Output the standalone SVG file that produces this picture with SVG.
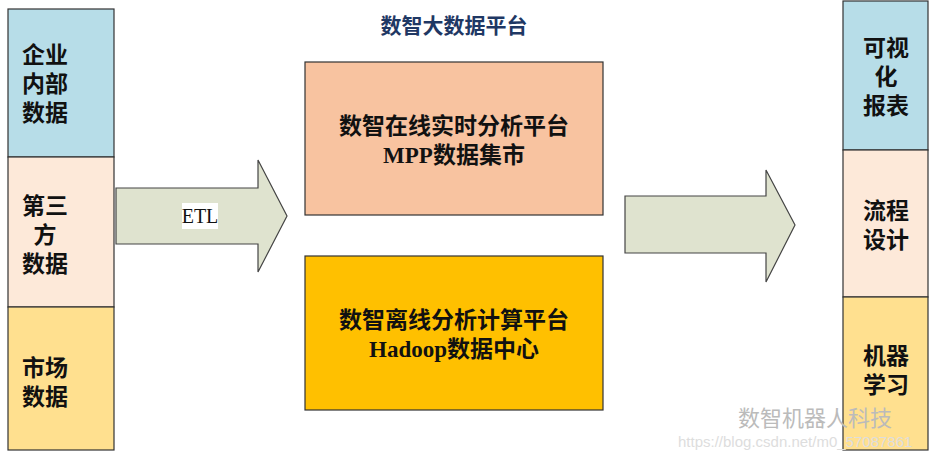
<svg xmlns="http://www.w3.org/2000/svg" width="929" height="462" viewBox="0 0 929 462">
<style>
.t{font-family:"Liberation Serif","Noto Sans CJK SC",serif;font-size:23px;font-weight:bold;fill:#111;text-anchor:middle}
.b{stroke:#333;stroke-width:1.2}
.a{fill:#dfe3cf;stroke:#444;stroke-width:1.2}
.w{font-family:"Noto Sans CJK SC",sans-serif;fill:#bbb;font-size:22px}
</style>
<rect width="929" height="462" fill="#fff"/>
<text x="454" y="33" class="t" style="fill:#1f3864;font-size:21px">数智大数据平台</text>
<g id="left-1"><rect class="b" x="8" y="9" width="106" height="148" fill="#b7dde8"/><text class="t" x="45" y="63">企业</text><text class="t" x="45" y="92">内部</text><text class="t" x="45" y="121">数据</text></g>
<g id="left-2"><rect class="b" x="8" y="157" width="106" height="150" fill="#fde9d9"/><text class="t" x="45" y="214">第三</text><text class="t" x="45" y="243">方</text><text class="t" x="45" y="272">数据</text></g>
<g id="left-3"><rect class="b" x="8" y="307" width="106" height="143" fill="#ffe08f"/><text class="t" x="45" y="376">市场</text><text class="t" x="45" y="405">数据</text></g>
<g id="right-1"><rect class="b" x="843" y="1" width="85" height="149" fill="#b7dde8"/><text class="t" x="886" y="56">可视</text><text class="t" x="886" y="85">化</text><text class="t" x="886" y="114">报表</text></g>
<g id="right-2"><rect class="b" x="843" y="150" width="85" height="147" fill="#fde9d9"/><text class="t" x="886" y="219">流程</text><text class="t" x="886" y="248">设计</text></g>
<g id="right-3"><rect class="b" x="843" y="297" width="85" height="153" fill="#ffe08f"/><text class="t" x="886" y="364">机器</text><text class="t" x="886" y="393">学习</text></g>
<g id="online"><rect class="b" x="305" y="62" width="298" height="153" fill="#f8c3a0"/><text class="t" x="454" y="134">数智在线实时分析平台</text><text class="t" x="454" y="163">MPP数据集市</text></g>
<g id="offline"><rect class="b" x="305" y="256" width="298" height="154" fill="#ffc000"/><text class="t" x="454" y="328">数智离线分析计算平台</text><text class="t" x="454" y="357">Hadoop数据中心</text></g>
<g id="connectors">
<path class="a" d="M116,188H258V160L287,216L258,272V244H116Z"/>
<rect x="182" y="203" width="36" height="26" fill="#fff"/>
<text x="200" y="223" text-anchor="middle" style="font-family:'Liberation Serif',serif;font-size:20px;fill:#111">ETL</text>
<path class="a" d="M625,196H766V170L795,225L766,282V253H625Z"/>
</g>
<text class="w" x="738" y="426">数智机器人科技</text>
<text x="678" y="447" style="font-family:'Liberation Sans',sans-serif;font-size:15px;fill:#ddd">https://blog.csdn.net/m0_57087861</text>
</svg>
